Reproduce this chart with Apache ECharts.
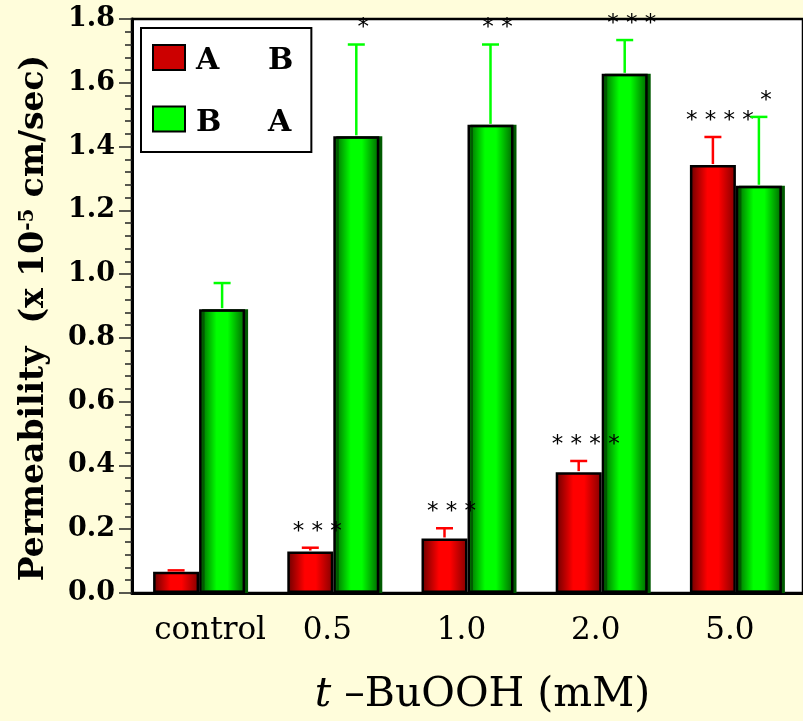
<!DOCTYPE html>
<html>
<head>
<meta charset="utf-8">
<script src="https://cdn.jsdelivr.net/npm/echarts@6/dist/echarts.min.js"></script>
<style>
  html, body { margin: 0; padding: 0; background: #fffddb; }
  #chart { width: 803px; height: 721px; }
</style>
</head>
<body>
<div id="chart"></div>
<script>
// t-BuOOH concentrations
var categories = ["control", "0.5", "1.0", "2.0", "5.0"];
// A -> B (red) and B -> A (green) permeability, x 10^-5 cm/sec
var abValues = [0.067, 0.13, 0.171, 0.379, 1.342];
var abErrors = [0.004, 0.012, 0.032, 0.035, 0.088];
var abStars = ["", "***", "***", "****", "****"];
var baValues = [0.89, 1.432, 1.468, 1.628, 1.277];
var baErrors = [0.082, 0.288, 0.252, 0.106, 0.216];
var baStars = ["", "*", "**", "***", "*"];
var yTicks = [0, 1.8, 0.2]; // min, max, step

var BAR_W = 46;

function gradient(dark1, bright, dark2) {
  return new echarts.graphic.LinearGradient(0, 0, 1, 0, [
    { offset: 0, color: dark1 },
    { offset: 0.38, color: bright },
    { offset: 0.62, color: bright },
    { offset: 1, color: dark2 }
  ]);
}

// upper error bar + significance stars, side = -1 for left bar, +1 for right bar
function errorBars(side, stars, color) {
  return function (params, api) {
    var i = api.value(0);
    var base = api.coord([i, api.value(1)]);
    var top = api.coord([i, api.value(1) + api.value(2)]);
    var cx = base[0] + side * BAR_W / 2;
    var st = { stroke: color, lineWidth: 2.5 };
    return {
      type: "group",
      children: [
        { type: "line", shape: { x1: cx, y1: base[1] - 1, x2: cx, y2: top[1] }, style: st },
        { type: "line", shape: { x1: cx - 8.5, y1: top[1], x2: cx + 8.5, y2: top[1] }, style: st },
        {
          type: "text",
          x: cx + 7,
          y: top[1] - 16,
          style: {
            text: stars[params.dataIndex].split("").join(" "),
            fill: "#000",
            font: "23px 'DejaVu Sans'",
            align: "center",
            verticalAlign: "middle"
          }
        }
      ]
    };
  };
}

var legendFmt = function (name) {
  var p = name.split(/\s+/);
  return "{a|" + p[0] + "}{b|" + p[1] + "}";
};

var serif = "DejaVu Serif";

var myChart = echarts.init(document.getElementById("chart"));
myChart.setOption({
  backgroundColor: "#fffddb",
  animation: false,
  grid: {
    left: 132,
    top: 19,
    width: 682,
    height: 574,
    show: true,
    backgroundColor: "#ffffff",
    borderColor: "#000",
    borderWidth: 2.5
  },
  legend: {
    orient: "vertical",
    left: 141,
    top: 28,
    padding: [16, 18, 14, 11],
    itemGap: 29,
    itemWidth: 32,
    itemHeight: 25,
    backgroundColor: "#ffffff",
    borderColor: "#000",
    borderWidth: 2,
    data: [
      { name: "A B", icon: "rect", itemStyle: { color: "#cc0000", borderColor: "#000", borderWidth: 2 } },
      { name: "B A", icon: "rect", itemStyle: { color: "#00ff00", borderColor: "#000", borderWidth: 2 } }
    ],
    formatter: legendFmt,
    textStyle: {
      rich: {
        a: { fontFamily: serif, fontWeight: "bold", fontSize: 30, color: "#000", width: 72, padding: [8, 0, 0, 6] },
        b: { fontFamily: serif, fontWeight: "bold", fontSize: 30, color: "#000", padding: [8, 0, 0, 0] }
      }
    }
  },
  xAxis: {
    type: "category",
    data: categories,
    axisTick: { show: false },
    axisLine: { lineStyle: { color: "#000", width: 3 } },
    axisLabel: {
      interval: 0,
      margin: 22,
      formatter: function (v, i) {
        return i === 0 ? "{c|" + v + "}" : "{d|" + v + "}";
      },
      rich: {
        c: { color: "#000", fontFamily: serif, fontSize: 31, padding: [0, 0, 0, 22] },
        d: { color: "#000", fontFamily: serif, fontSize: 31, padding: [0, 12, 0, 0] }
      }
    },
    name: "{i|t} –BuOOH (mM)",
    nameLocation: "middle",
    nameGap: 82,
    nameTextStyle: {
      padding: [0, 0, 0, 30],
      fontFamily: serif,
      fontSize: 41,
      color: "#000",
      rich: {
        i: { fontFamily: serif, fontStyle: "italic", fontSize: 41, color: "#000" }
      }
    }
  },
  yAxis: {
    type: "value",
    min: yTicks[0],
    max: yTicks[1],
    interval: yTicks[2],
    splitLine: { show: false },
    axisLine: { show: true, lineStyle: { color: "#000", width: 3 } },
    axisTick: { show: true, length: 13, lineStyle: { color: "#222", width: 1.5 } },
    minorTick: { show: true, splitNumber: 5, length: 7, lineStyle: { color: "#222", width: 1.5 } },
    axisLabel: {
      margin: 17,
      color: "#000",
      fontFamily: serif,
      fontWeight: "bold",
      fontSize: 27,
      formatter: function (v) { return v.toFixed(1); }
    },
    name: "{n|Permeability  (x 10}{s|-5}{n| cm/sec)}",
    nameLocation: "middle",
    nameRotate: 90,
    nameGap: 81,
    nameTextStyle: {
      padding: [0, 24, 0, 0],
      rich: {
        n: { fontFamily: serif, fontWeight: "bold", fontSize: 33, color: "#000" },
        s: { fontFamily: serif, fontWeight: "bold", fontSize: 20, color: "#000", verticalAlign: "top" }
      }
    }
  },
  series: [
    {
      name: "A B",
      type: "bar",
      barWidth: BAR_W,
      barGap: "0%",
      data: abValues,
      itemStyle: {
        color: gradient("#680000", "#ff0000", "#800000"),
        borderColor: "#000",
        borderWidth: 2.5
      }
    },
    {
      name: "B A",
      type: "bar",
      barWidth: BAR_W,
      barGap: "0%",
      data: baValues,
      itemStyle: {
        color: gradient("#005800", "#00ff00", "#006400"),
        borderColor: "#000",
        borderWidth: 2.5,
        shadowColor: "#005a00",
        shadowOffsetX: 3
      }
    },
    {
      type: "custom",
      z: 5,
      clip: false,
      renderItem: errorBars(-1, abStars, "#ff0000"),
      data: abValues.map(function (v, i) { return [i, v, abErrors[i]]; })
    },
    {
      type: "custom",
      z: 5,
      clip: false,
      renderItem: errorBars(1, baStars, "#00ff00"),
      data: baValues.map(function (v, i) { return [i, v, baErrors[i]]; })
    }
  ]
});
</script>
</body>
</html>
